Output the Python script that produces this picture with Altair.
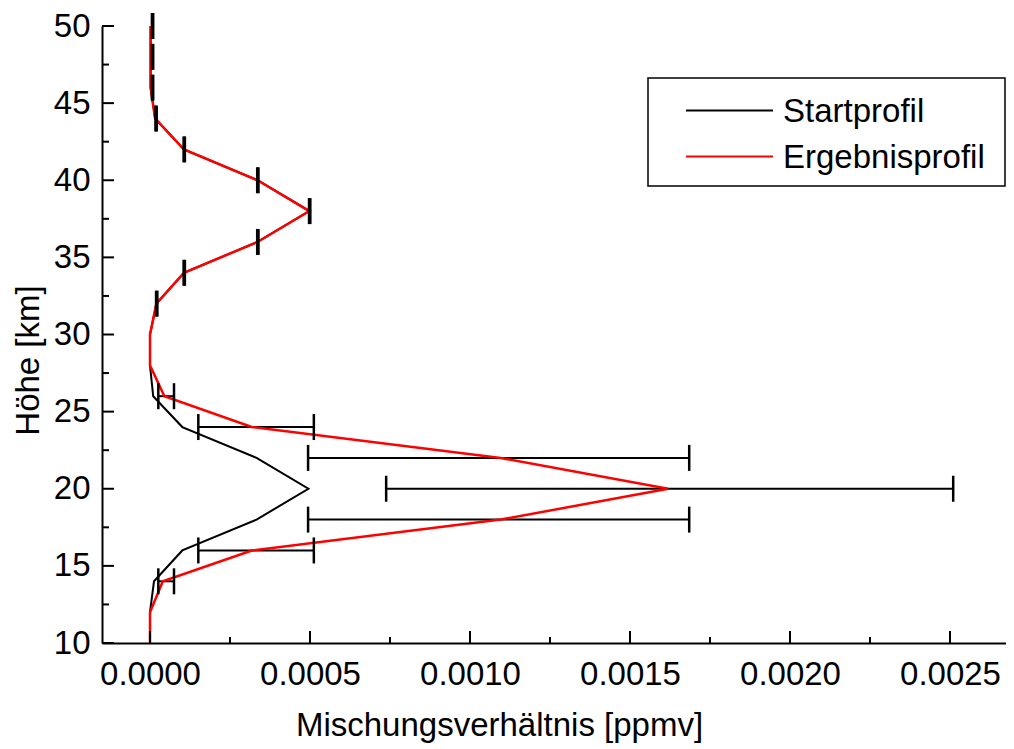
import altair as alt
import pandas as pd

# ---- data ----
heights = [10, 12, 14, 16, 18, 20, 22, 24, 26, 28, 30, 32, 34, 36, 38, 40, 42, 44, 46, 48, 50]
start = [0.0, 0.0, 0.0000125, 0.000101, 0.000333, 0.000495, 0.000333, 0.000101, 0.00001, 0.0, 0.0,
         0.00002, 0.000106, 0.000336, 0.000498, 0.000336, 0.000106, 0.000016, 0.000002, 0.000002, 0.000002]
result = [0.0, 0.0, 0.00004, 0.000318, 0.001096, 0.001619, 0.001096, 0.000318, 0.000045, 0.0, 0.0,
          0.00002, 0.000106, 0.000336, 0.000498, 0.000336, 0.000106, 0.000016, 0.000002, 0.000002, 0.000002]

err_heights = [14, 16, 18, 20, 22, 24, 26, 32, 34, 36, 38, 40, 42, 44, 46, 48, 50]
err_lo = [0.000026, 0.000151, 0.000494, 0.000738, 0.000494, 0.000151, 0.000026,
          0.000019, 0.000105, 0.000335, 0.000497, 0.000335, 0.000105, 0.000017, 0.000006, 0.000006, 0.000006]
err_hi = [0.000075, 0.000512, 0.001685, 0.00251, 0.001685, 0.000512, 0.000075,
          0.000023, 0.000109, 0.000339, 0.000501, 0.000339, 0.000109, 0.000021, 0.000010, 0.000010, 0.000010]

series_names = ["Startprofil", "Ergebnisprofil"]
series_colors = ["black", "red"]
series_widths = [2, 2.5]

x_major = [0.0, 0.0005, 0.0010, 0.0015, 0.0020, 0.0025]
x_minor = [0.00025, 0.00075, 0.00125, 0.00175, 0.00225]
y_major = [10, 15, 20, 25, 30, 35, 40, 45, 50]
y_minor = [12.5, 17.5, 22.5, 27.5, 32.5, 37.5, 42.5, 47.5]

# ---- tables ----
lines_df = pd.concat([
    pd.DataFrame({"h": heights, "value": start, "series": series_names[0]}),
    pd.DataFrame({"h": heights, "value": result, "series": series_names[1]}),
])
err_df = pd.DataFrame({"h": err_heights, "lo": err_lo, "hi": err_hi})
xmaj_df = pd.DataFrame({"v": x_major})
xmin_df = pd.DataFrame({"v": x_minor})
ymaj_df = pd.DataFrame({"t": y_major})
ymin_df = pd.DataFrame({"t": y_minor})

FONT = "Liberation Sans"
FS = 33
TOP = 18
W, H = 904, 617

xs = alt.Scale(domain=[-0.00015, 0.002675], nice=False, zero=False)
ys = alt.Scale(domain=[10, 50], nice=False, zero=False)

x_axis = alt.Axis(values=x_major, format=".4f", labelPadding=15,
                  title="Mischungsverhältnis [ppmv]",
                  titleX=397, titleY=82, titleAlign="center", titleBaseline="middle")
y_axis = alt.Axis(values=y_major, labelPadding=12, title="Höhe [km]",
                  titleX=-74, titleY=334, titleAngle=270,
                  titleAlign="center", titleBaseline="middle")


def X(field):
    return alt.X(field, scale=xs, axis=x_axis)


def Y(field):
    return alt.Y(field, scale=ys, axis=y_axis)


# error bars (horizontal part)
err_rules = alt.Chart(err_df).mark_rule(color="black", strokeWidth=2).encode(
    x=X("lo:Q"), x2="hi:Q", y=Y("h:Q"),
)


def profile(i):
    return alt.Chart(lines_df).transform_filter(
        alt.datum.series == series_names[i]
    ).mark_line(strokeWidth=series_widths[i], color=series_colors[i]).encode(
        x=X("value:Q"), y=Y("h:Q"), order="h:Q",
    )


caps_lo = alt.Chart(err_df).mark_tick(orient="vertical", size=26, thickness=2.5, color="black",
                                      opacity=1).encode(x=X("lo:Q"), y=Y("h:Q"))
caps_hi = alt.Chart(err_df).mark_tick(orient="vertical", size=26, thickness=2.5, color="black",
                                      opacity=1).encode(x=X("hi:Q"), y=Y("h:Q"))

# inward axis ticks
xtick_major = alt.Chart(xmaj_df).mark_rule(color="black", strokeWidth=2).encode(
    x=X("v:Q"), y=alt.value(H), y2=alt.value(H - 12))
xtick_minor = alt.Chart(xmin_df).mark_rule(color="black", strokeWidth=2).encode(
    x=X("v:Q"), y=alt.value(H), y2=alt.value(H - 6))
ytick_major = alt.Chart(ymaj_df).mark_rule(color="black", strokeWidth=2).encode(
    y=Y("t:Q"), x=alt.value(0), x2=alt.value(12))
ytick_minor = alt.Chart(ymin_df).mark_rule(color="black", strokeWidth=2).encode(
    y=Y("t:Q"), x=alt.value(0), x2=alt.value(7))

# legend (box, line samples, labels)
LX0, LX1, LY0, LY1 = 546, 903, 78 - 8 - TOP, 186 - 8 - TOP
legend_box = alt.Chart(pd.DataFrame({"k": [0]})).mark_rect(
    fill="white", stroke="black", strokeWidth=1.5
).encode(x=alt.value(LX0), x2=alt.value(LX1), y=alt.value(LY0), y2=alt.value(LY1))

legend_layers = []
row_y = [110.5 - 8 - TOP, 156.5 - 8 - TOP]
for i, name in enumerate(series_names):
    df = pd.DataFrame({"series": [name]})
    legend_layers.append(
        alt.Chart(df).mark_rule(color=series_colors[i], strokeWidth=2).encode(
            x=alt.value(584), x2=alt.value(671), y=alt.value(row_y[i]))
    )
    legend_layers.append(
        alt.Chart(df).mark_text(align="left", baseline="middle", font=FONT,
                                fontSize=FS, color="black").encode(
            text="series:N", x=alt.value(681), y=alt.value(row_y[i] + 1))
    )

chart = alt.layer(
    err_rules, profile(0), profile(1), caps_lo, caps_hi,
    xtick_major, xtick_minor, ytick_major, ytick_minor,
    legend_box, *legend_layers,
).properties(
    width=W, height=H,
    autosize=alt.AutoSizeParams(type="none"),
    padding={"left": 94, "top": TOP, "right": 0, "bottom": 102},
).configure_view(stroke=None).configure_axis(
    domainColor="black", domainWidth=2, ticks=False, grid=False,
    labelFont=FONT, labelFontSize=FS, labelColor="black",
    titleFont=FONT, titleFontSize=FS, titleFontWeight="normal", titleColor="black",
)

chart.save("out.html", embed_options={"renderer": "svg", "actions": False})
